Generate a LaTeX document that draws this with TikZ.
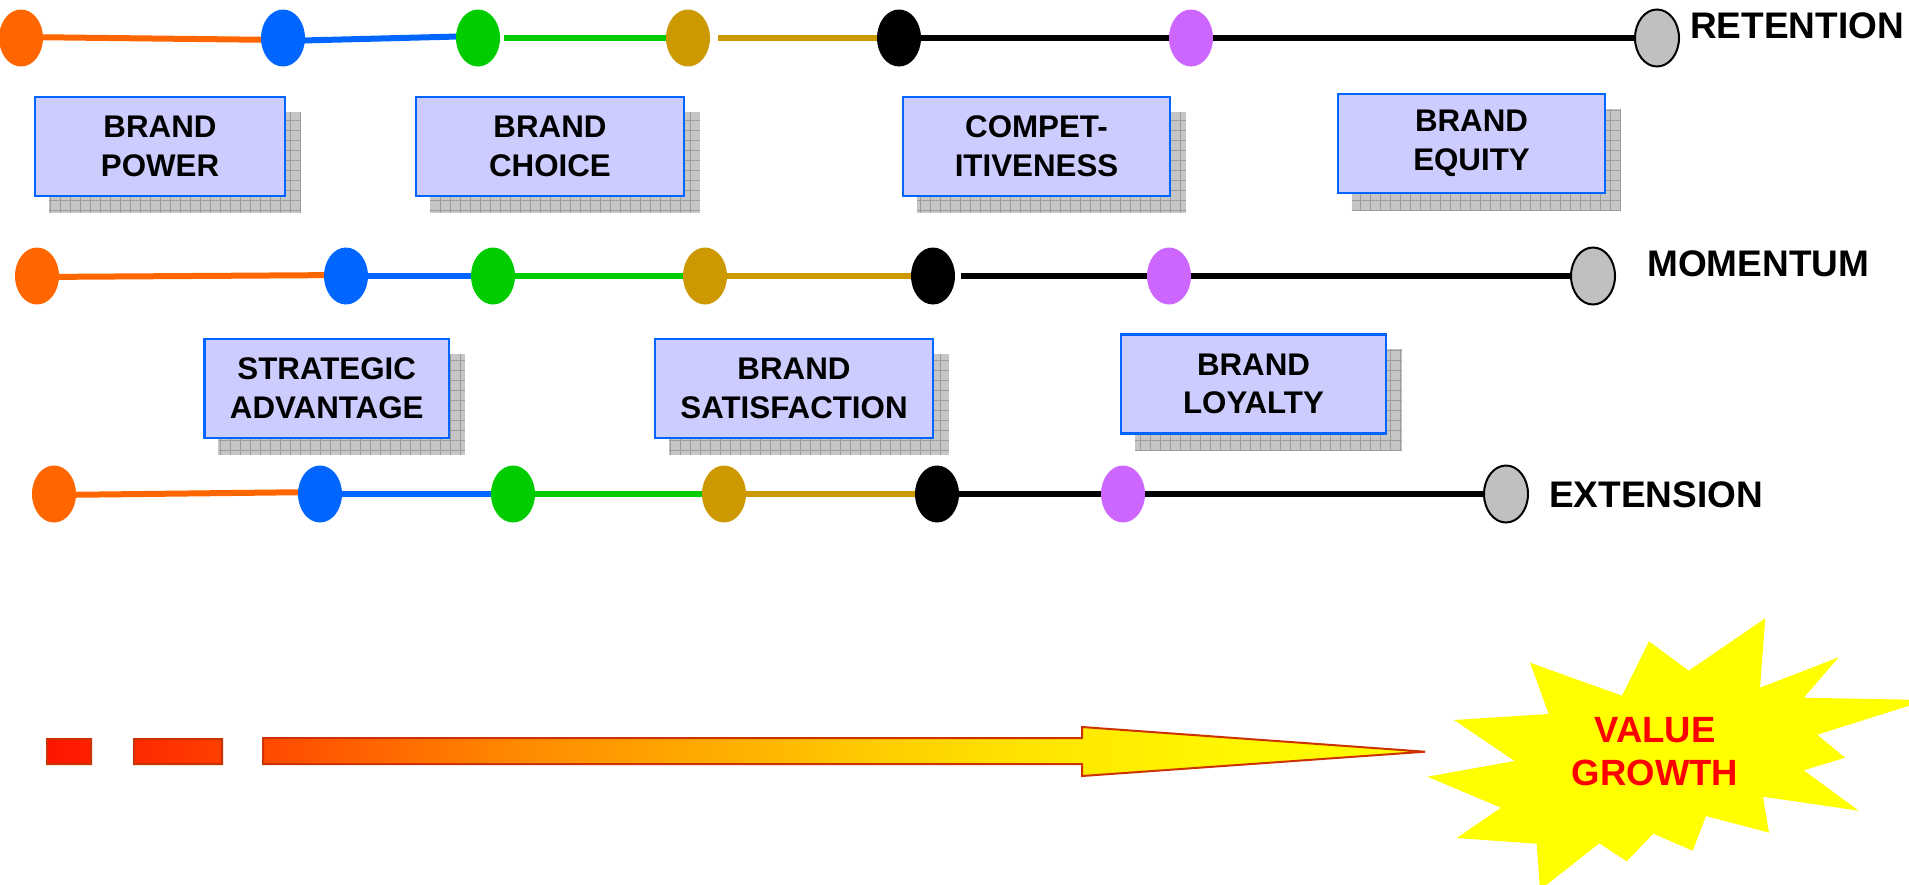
\documentclass[tikz,border=0pt]{standalone}
\usepackage{fontspec}
\setmainfont{Liberation Sans}
\usetikzlibrary{shapes.geometric,backgrounds,calc}

\definecolor{beadorange}{HTML}{FF6600}
\definecolor{beadblue}{HTML}{0066FF}
\definecolor{beadgreen}{HTML}{00CC00}
\definecolor{beadgold}{HTML}{CC9900}
\definecolor{beadpurple}{HTML}{CC66FF}
\definecolor{beadgray}{HTML}{C0C0C0}
\definecolor{boxfill}{HTML}{CCCCFF}
\definecolor{boxedge}{HTML}{0066FF}
\definecolor{shadefill}{HTML}{C6C6C6}
\definecolor{shadegrid}{HTML}{9C9C9C}
\definecolor{flowedge}{HTML}{CC3300}
\definecolor{burst}{HTML}{FFFF00}

% red -> orange -> yellow ramp for the growth arrow (path box maps to 25bp..75bp)
\pgfdeclarehorizontalshading{flowgrad}{100bp}{%
  rgb(0bp)=(1,0.08,0); rgb(25bp)=(1,0.08,0); rgb(33bp)=(1,0.29,0);
  rgb(42.5bp)=(1,0.55,0); rgb(50bp)=(1,0.69,0); rgb(55bp)=(1,0.8,0);
  rgb(61bp)=(1,0.9,0); rgb(67bp)=(1,0.96,0); rgb(75bp)=(1,1,0); rgb(100bp)=(1,1,0)}

\begin{document}
\begin{tikzpicture}[x=1pt,y=-1pt,
  bead/.style={ellipse, minimum width=44pt, minimum height=57pt, inner sep=0pt},
  endbead/.style={bead, fill=beadgray, draw=black, line width=2pt},
  link/.style={line width=6pt},
  infobox/.style={draw=boxedge, fill=boxfill, line width=2.2pt, minimum height=99pt,
    inner sep=0pt, align=center, font=\fontsize{31.3}{38.7}\selectfont\bfseries},
  rowlabel/.style={anchor=base west, inner sep=0pt, font=\fontsize{37}{44}\selectfont\bfseries},
  burstlabel/.style={align=center, text=red, inner sep=0pt,
    font=\fontsize{36.5}{43.4}\selectfont\bfseries},
  flowoutline/.style={draw=flowedge, line width=2pt, line join=miter}
]
\useasboundingbox (0,0) rectangle (1909,884);

% ---------- row 1: RETENTION ----------
\node[bead, fill=beadorange] (o1) at (21,38) {};
\node[bead, fill=beadblue]   (b1) at (283,38) {};
\node[bead, fill=beadgreen]  (g1) at (478,38) {};
\node[bead, fill=beadgold]   (y1) at (688,38) {};
\node[bead, fill=black]      (k1) at (899,38) {};
\node[bead, fill=beadpurple] (p1) at (1191,38) {};
\node[endbead]               (r1) at (1657,38) {};
\node[rowlabel] (lret) at (1690,38) {RETENTION};

% ---------- row 2: MOMENTUM ----------
\node[bead, fill=beadorange] (o2) at (37,276) {};
\node[bead, fill=beadblue]   (b2) at (346,276) {};
\node[bead, fill=beadgreen]  (g2) at (493,276) {};
\node[bead, fill=beadgold]   (y2) at (705,276) {};
\node[bead, fill=black]      (k2) at (933,276) {};
\node[bead, fill=beadpurple] (p2) at (1169,276) {};
\node[endbead]               (r2) at (1593,276) {};
\node[rowlabel] (lmom) at (1647,276) {MOMENTUM};

% ---------- row 3: EXTENSION ----------
\node[bead, fill=beadorange] (o3) at (54,494) {};
\node[bead, fill=beadblue]   (b3) at (320,494) {};
\node[bead, fill=beadgreen]  (g3) at (513,494) {};
\node[bead, fill=beadgold]   (y3) at (724,494) {};
\node[bead, fill=black]      (k3) at (937,494) {};
\node[bead, fill=beadpurple] (p3) at (1123,494) {};
\node[endbead]               (r3) at (1506,494) {};
\node[rowlabel] (lext) at (1549,507) {EXTENSION};

% ---------- concept boxes ----------
\node[infobox, minimum width=250pt]   (bpower)  at (160,146.5)    {BRAND\\POWER};
\node[infobox, minimum width=267.5pt] (bchoice) at (550,146.5)    {BRAND\\CHOICE};
\node[infobox, minimum width=267pt]   (bcomp)   at (1036.5,146.5) {COMPET-\\ITIVENESS};
\node[infobox, minimum width=267pt]   (bequity) at (1471.5,143.5) {BRAND\\EQUITY};
\node[infobox, minimum width=244.5pt] (bstrat)  at (326.75,388.5) {STRATEGIC\\ADVANTAGE};
\node[infobox, minimum width=278pt]   (bsat)    at (794,388.5)    {BRAND\\SATISFACTION};
\node[infobox, minimum width=265pt]   (bloyal)  at (1253.5,384)   {BRAND\\LOYALTY};

\begin{scope}[on background layer]
  % hatched drop shadows behind the boxes
  \foreach \b in {bpower,bchoice,bcomp,bequity,bstrat,bsat,bloyal}{
    \fill[shadefill] ($(\b.south west)+(15,16)$) rectangle ($(\b.north east)+(15,16)$);
    \begin{scope}
      \clip ($(\b.south west)+(15,16)$) rectangle ($(\b.north east)+(15,16)$);
      \draw[shadegrid, line width=0.9pt, xstep=10pt, ystep=10pt]
        ($(\b.south west)+(15,16)$) grid ($(\b.north east)+(15,16)$);
    \end{scope}
  }

  % row 1 links
  \draw[link, beadorange] ([yshift=1pt]o1.center) -- ([yshift=-2pt]b1.center);
  \draw[link, beadblue]   ([yshift=-3pt]b1.center) -- ([yshift=2pt]g1.center);
  \draw[link, beadgreen]  ([xshift=4pt]g1.east) -- (y1.center);
  \draw[link, beadgold]   ([xshift=8pt]y1.east) -- (k1.center);
  \draw[link, black]      (k1.center) -- (p1.center) -- (r1.center);

  % row 2 links
  \draw[link, beadorange] ([yshift=-1pt]o2.center) -- ([yshift=1pt]b2.center);
  \draw[link, beadblue]   (b2.center) -- (g2.center);
  \draw[link, beadgreen]  (g2.center) -- (y2.center);
  \draw[link, beadgold]   (y2.center) -- (k2.center);
  \draw[link, black]      ([xshift=6pt]k2.east) -- (p2.center) -- (r2.center);

  % row 3 links
  \draw[link, beadorange] ([yshift=-1pt]o3.center) -- ([yshift=2pt]b3.center);
  \draw[link, beadblue]   (b3.center) -- (g3.center);
  \draw[link, beadgreen]  (g3.center) -- (y3.center);
  \draw[link, beadgold]   (y3.center) -- (k3.center);
  \draw[link, black]      (k3.center) -- (p3.center) -- (r3.center);
\end{scope}

% ---------- growth arrow ----------
\shade[shading=flowgrad]
  (47,739) rectangle (91,764)
  (134,739) rectangle (222,764)
  (263,738) -- (1082,738) -- (1082,727) -- (1425,751.7) -- (1082,776) -- (1082,764) -- (263,764) -- cycle;
\draw[flowoutline]
  (47,739) rectangle (91,764)
  (134,739) rectangle (222,764)
  (263,738) -- (1082,738) -- (1082,727) -- (1425,751.7) -- (1082,776) -- (1082,764) -- (263,764) -- cycle;

% ---------- starburst ----------
\fill[burst]
  (1530,662.7) -- (1622,695.7) -- (1649,641.3) -- (1688.7,670.7) -- (1765.3,618.3)
  -- (1760,687.7) -- (1838.7,657.3) -- (1803.7,697.7) -- (1927,700) -- (1817.3,734.7)
  -- (1845,757.7) -- (1803.7,770.3) -- (1858.7,810.7) -- (1763,796.7) -- (1769,832.7)
  -- (1706,816) -- (1692.7,850.7) -- (1653.3,833.7) -- (1626.7,861.3) -- (1599.3,843.3)
  -- (1540,890) -- (1536.7,843.7) -- (1456.7,838) -- (1501,807.7) -- (1427.3,776.7)
  -- (1514.7,761) -- (1454,720) -- (1548.7,714) -- cycle;
\node[burstlabel] (vgrowth) at (1655,751.5) {VALUE\\GROWTH};

\end{tikzpicture}
\end{document}
